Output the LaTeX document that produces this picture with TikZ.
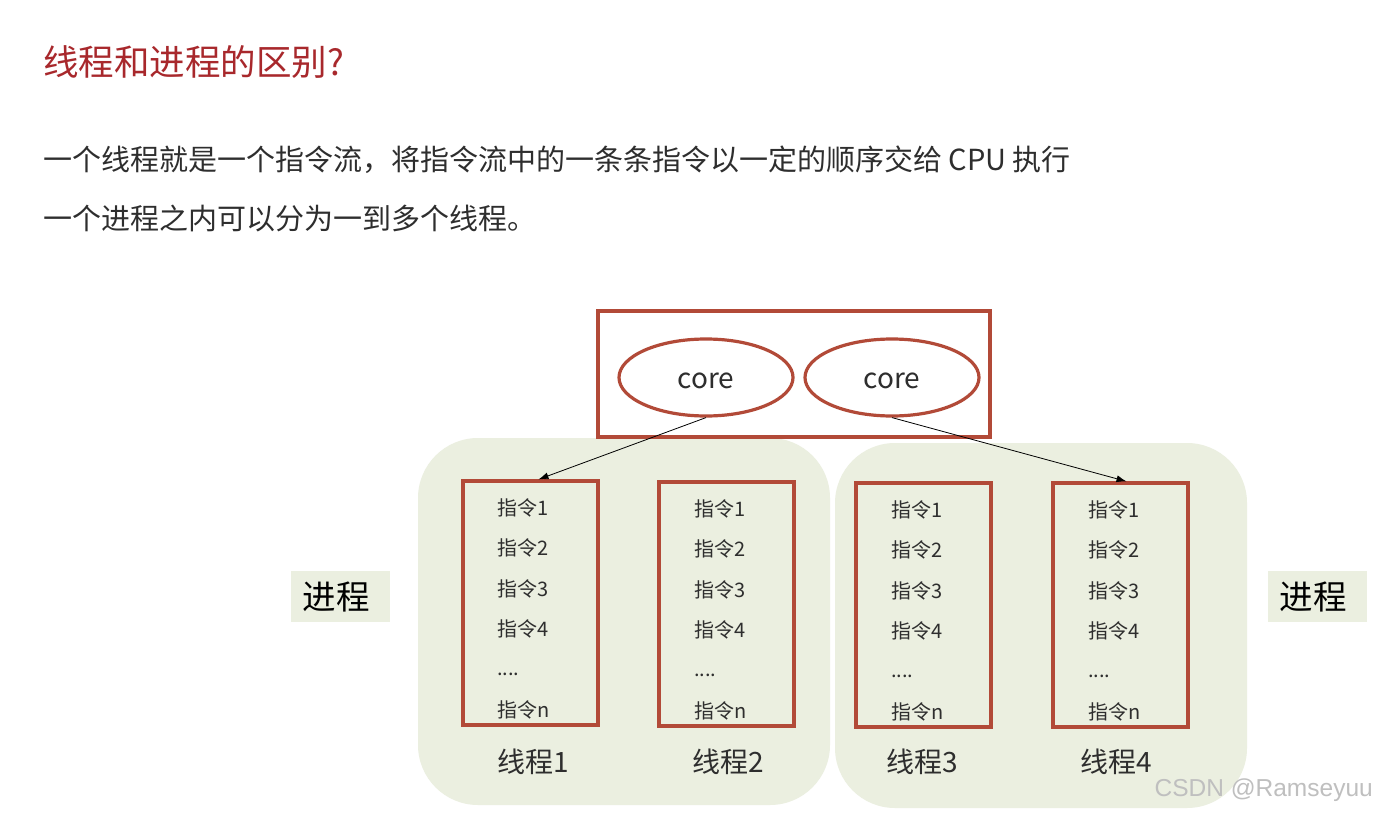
\documentclass[tikz,border=0pt]{standalone}
\usepackage{fontspec}
\setmainfont{Noto Sans CJK SC}
\newfontfamily\wmfont{Liberation Sans}
\usetikzlibrary{shapes.geometric,arrows.meta,calc}
\definecolor{titlered}{HTML}{A8282C}
\definecolor{boxred}{HTML}{B24A38}
\definecolor{procgreen}{HTML}{EBEFE0}
\definecolor{txt}{HTML}{2E2E2E}
\tikzset{
  redbox/.style={draw=boxred, line width=3.2pt, inner sep=0pt},
  coreell/.style={ellipse, draw=boxred, line width=3.2pt, minimum width=174pt, minimum height=77pt, inner sep=0pt},
  coretxt/.style={inner sep=0pt, font=\fontsize{28}{32}\selectfont, text=txt},
  procbg/.style={fill=procgreen, rounded corners=60pt},
  instr/.style={anchor=west, inner sep=0pt, font=\fontsize{20}{24}\selectfont, text=txt},
  tlabel/.style={anchor=west, inner sep=0pt, font=\fontsize{28}{32}\selectfont, text=txt},
  plabel/.style={inner sep=0pt, font=\fontsize{33.5}{38}\selectfont, text=black},
  bodytxt/.style={anchor=west, inner sep=0pt, font=\fontsize{29}{34}\selectfont, text=txt},
  link/.style={-{Latex[length=10pt,width=7pt]}, line width=0.8pt, black}
}
\begin{document}
\begin{tikzpicture}[x=1pt,y=-1pt]
\useasboundingbox[fill=white] (0,0) rectangle (1378,813);
% title and text
\node[anchor=west, inner sep=0pt, font=\fontsize{35.5}{40}\selectfont, text=titlered] (title) at (43,62) {线程和进程的区别?};
\node[bodytxt] (l1) at (43,160) {一个线程就是一个指令流，将指令流中的一条条指令以一定的顺序交给 CPU 执行};
\node[bodytxt] (l2) at (43,218) {一个进程之内可以分为一到多个线程。};
% process backgrounds
\fill[procbg] (418,438) rectangle (830,805);
\fill[procbg] (835,443) rectangle (1247,808);
% cpu box
\node[redbox, minimum width=392pt, minimum height=126pt] (cpu) at (794,374) {};
\node[coreell] (core1) at (706,377.5) {};
\node[coreell] (core2) at (892,377.5) {};
\node[coretxt] (core1t) at ([yshift=-3.5pt]core1.center) {core};
\node[coretxt] (core2t) at ([yshift=-3.5pt]core2.center) {core};
% thread boxes
\node[redbox, minimum width=135pt, minimum height=244pt] (t1) at (530.5,603) {};
\node[redbox, minimum width=135pt, minimum height=244pt] (t2) at (726.5,604) {};
\node[redbox, minimum width=135pt, minimum height=244pt] (t3) at (923.5,605) {};
\node[redbox, minimum width=135pt, minimum height=244pt] (t4) at (1120.5,605) {};
% instructions
\foreach \n/\x/\dy in {ia/497/0,ib/694/1,ic/891/2,id/1088/2}{
  \node[instr] (\n-1) at (\x,508+\dy) {指令1};
  \node[instr] (\n-2) at (\x,548+\dy) {指令2};
  \node[instr] (\n-3) at (\x,589+\dy) {指令3};
  \node[instr] (\n-4) at (\x,629+\dy) {指令4};
  \node[instr] (\n-5) at (\x,674+\dy) {....};
  \node[instr] (\n-6) at (\x,710+\dy) {指令n};
}
% thread labels
\node[tlabel] (lab1) at (497,762) {线程1};
\node[tlabel] (lab2) at (692,762) {线程2};
\node[tlabel] (lab3) at (886,762) {线程3};
\node[tlabel] (lab4) at (1080,762) {线程4};
% process labels
\fill[procgreen] (291,571) rectangle (390,622);
\fill[procgreen] (1268,571) rectangle (1367,622);
\node[plabel] (p1) at (336,597) {进程};
\node[plabel] (p2) at (1313,597) {进程};
% arrows
\draw[link] (core1.south) -- ([xshift=8pt]t1.north);
\draw[link] (core2.south) -- ([xshift=6pt]t4.north);
% watermark
\node[anchor=east, inner sep=0pt, font=\wmfont\fontsize{24.5}{28}\selectfont, text=black!25] (wm) at (1373,790) {CSDN @Ramseyuu};
\end{tikzpicture}
\end{document}
